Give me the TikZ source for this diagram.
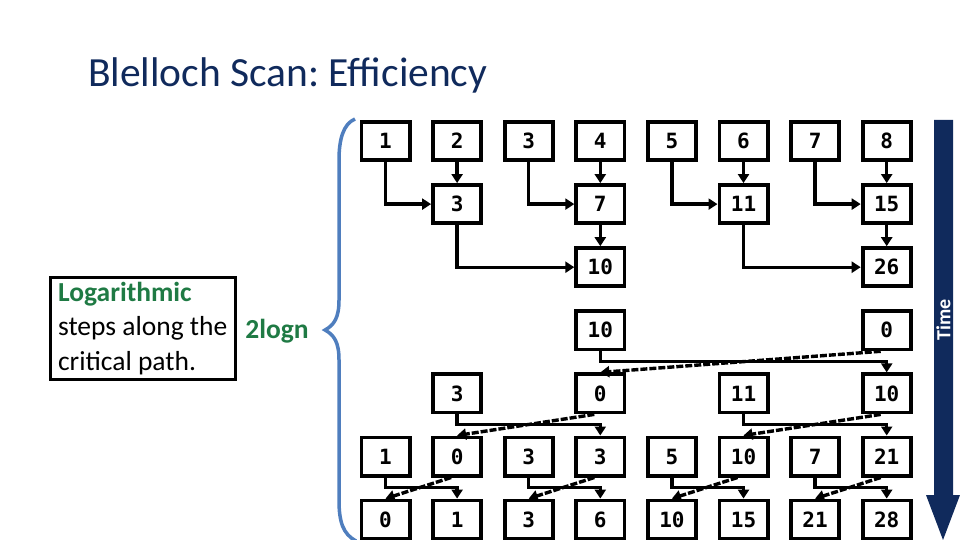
\documentclass[tikz,border=0pt]{standalone}
\usepackage{fontspec}
\setmainfont{Carlito}
\newfontfamily\cellfont{DejaVu Sans Mono}
\usepackage{tikz}
\usetikzlibrary{arrows.meta}
\definecolor{navy}{RGB}{16,42,92}
\definecolor{loggreen}{RGB}{31,122,68}
\definecolor{braceblue}{RGB}{79,126,190}
\frenchspacing
\tikzset{
	cell/.style = {draw, line width = 3.8pt, minimum width = 48.2pt, minimum height = 38.2pt, inner sep = 0pt, font = \cellfont\bfseries\fontsize{21}{21}\selectfont},
	arr/.style = {line width = 3.4pt, -{Triangle[length = 9pt, width = 11pt]}},
	darr/.style = {line width = 3.4pt, dash pattern = on 7pt off 2pt, -{Triangle[length = 9pt, width = 11pt]}}
}

\begin{document}
\begin{tikzpicture}[x = 1pt, y = -1pt]
	\useasboundingbox (0,0) rectangle (960,540);
	\node[navy, anchor = base west, inner sep = 0pt, font = \fontsize{41.5}{41.5}\selectfont] (title) at (88,87) {Blelloch Scan: Efficiency};

	\node[cell] (a1) at (385.5,141) {1};
	\node[cell] (a2) at (457.1,141) {2};
	\node[cell] (a3) at (528.7,141) {3};
	\node[cell] (a4) at (600.3,141) {4};
	\node[cell] (a5) at (671.9,141) {5};
	\node[cell] (a6) at (743.5,141) {6};
	\node[cell] (a7) at (815.1,141) {7};
	\node[cell] (a8) at (886.7,141) {8};
	\node[cell] (b2) at (457.1,204.1) {3};
	\node[cell] (b4) at (600.3,204.1) {7};
	\node[cell] (b6) at (743.5,204.1) {11};
	\node[cell] (b8) at (886.7,204.1) {15};
	\node[cell] (c4) at (600.3,267.2) {10};
	\node[cell] (c8) at (886.7,267.2) {26};
	\node[cell] (d4) at (600.3,330.3) {10};
	\node[cell] (d8) at (886.7,330.3) {0};
	\node[cell] (e2) at (457.1,393.4) {3};
	\node[cell] (e4) at (600.3,393.4) {0};
	\node[cell] (e6) at (743.5,393.4) {11};
	\node[cell] (e8) at (886.7,393.4) {10};
	\node[cell] (f1) at (385.5,456.5) {1};
	\node[cell] (f2) at (457.1,456.5) {0};
	\node[cell] (f3) at (528.7,456.5) {3};
	\node[cell] (f4) at (600.3,456.5) {3};
	\node[cell] (f5) at (671.9,456.5) {5};
	\node[cell] (f6) at (743.5,456.5) {10};
	\node[cell] (f7) at (815.1,456.5) {7};
	\node[cell] (f8) at (886.7,456.5) {21};
	\node[cell] (g1) at (385.5,519.6) {0};
	\node[cell] (g2) at (457.1,519.6) {1};
	\node[cell] (g3) at (528.7,519.6) {3};
	\node[cell] (g4) at (600.3,519.6) {6};
	\node[cell] (g5) at (671.9,519.6) {10};
	\node[cell] (g6) at (743.5,519.6) {15};
	\node[cell] (g7) at (815.1,519.6) {21};
	\node[cell] (g8) at (886.7,519.6) {28};

	\draw[arr] (a1.south) |- (b2.west);
	\draw[arr] (a2) -- (b2);
	\draw[arr] (a3.south) |- (b4.west);
	\draw[arr] (a4) -- (b4);
	\draw[arr] (a5.south) |- (b6.west);
	\draw[arr] (a6) -- (b6);
	\draw[arr] (a7.south) |- (b8.west);
	\draw[arr] (a8) -- (b8);
	\draw[arr] (b2.south) |- (c4.west);
	\draw[arr] (b4) -- (c4);
	\draw[arr] (b6.south) |- (c8.west);
	\draw[arr] (b8) -- (c8);

	\draw[arr] (d4.south) -- ++(0,10) -| (e8.north);
	\draw[darr] ([xshift = -6pt]d8.south) -- (e4.north);
	\draw[arr] (e2.south) -- ++(0,10) -| (f4.north);
	\draw[darr] ([xshift = -6pt]e4.south) -- (f2.north);
	\draw[arr] (e6.south) -- ++(0,10) -| (f8.north);
	\draw[darr] ([xshift = -6pt]e8.south) -- (f6.north);
	\draw[arr] (f1.south) -- ++(0,10) -| (g2.north);
	\draw[darr] ([xshift = -6pt]f2.south) -- (g1.north);
	\draw[arr] (f3.south) -- ++(0,10) -| (g4.north);
	\draw[darr] ([xshift = -6pt]f4.south) -- (g3.north);
	\draw[arr] (f5.south) -- ++(0,10) -| (g6.north);
	\draw[darr] ([xshift = -6pt]f6.south) -- (g5.north);
	\draw[arr] (f7.south) -- ++(0,10) -| (g8.north);
	\draw[darr] ([xshift = -6pt]f8.south) -- (g7.north);

	\draw[braceblue, line width = 3.5pt] (355,119) .. controls (343,124) and (339,140) .. (339,160) -- (339,300) .. controls (339,318) and (334,325) .. (325,330) .. controls (334,335) and (339,342) .. (339,360) -- (339,500) .. controls (339,522) and (343,534) .. (356,541);

	\node[draw, line width = 3.2pt, anchor = west, minimum height = 102pt, align = left, inner xsep = 8pt, inner ysep = 0pt, font = \fontsize{27.5}{34.5}\selectfont] (note) at (48.5,328.5) {\textcolor{loggreen}{\textbf{Logarithmic}}\\steps along the\\critical path.};
	\node[loggreen, anchor = base, inner sep = 0pt, font = \bfseries\fontsize{27.5}{27.5}\selectfont] (steps) at (277,338) {2logn};

	\fill[navy] (934,120) -- (953,120) -- (953,495) -- (960,495) -- (943,540) -- (926,495) -- (934,495) -- cycle;
	\node[white, rotate = 90, inner sep = 0pt, font = \bfseries\fontsize{20}{20}\selectfont] (time) at (943.5,320) {Time};
\end{tikzpicture}
\end{document}
